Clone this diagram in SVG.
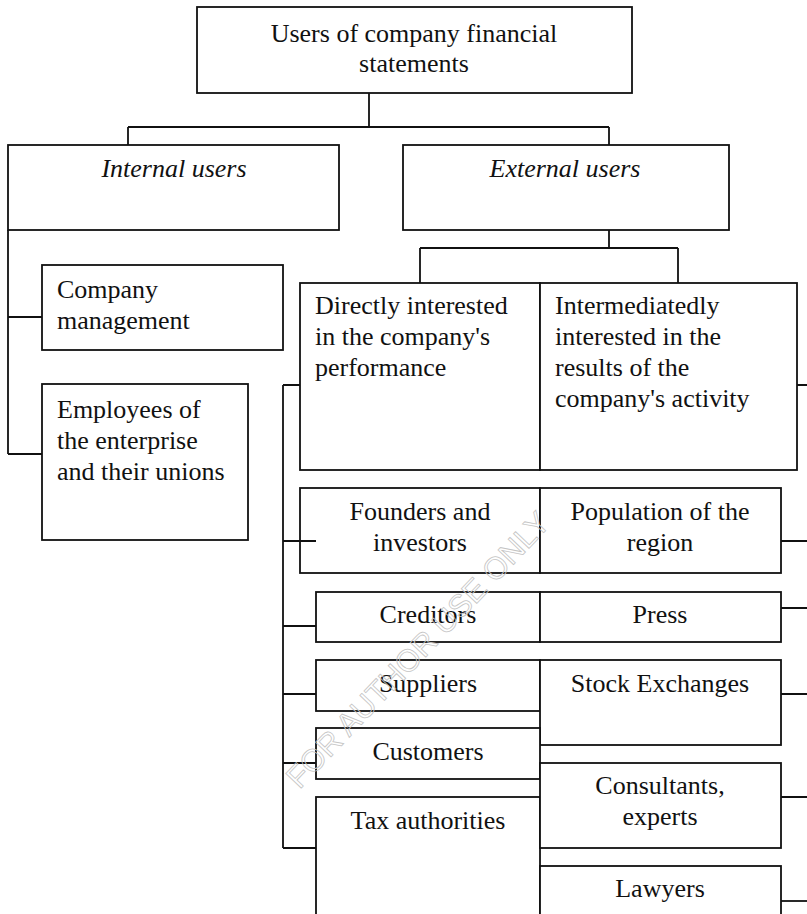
<svg xmlns="http://www.w3.org/2000/svg" width="807" height="914" viewBox="0 0 807 914">
  <style>
    .box { fill: #fff; stroke: #111; stroke-width: 1.8; }
    .ln { fill: none; stroke: #111; stroke-width: 1.8; }
    text { font-family: "Liberation Serif", "Times New Roman", serif; font-size: 26px; fill: #111; }
    .c { text-anchor: middle; }
    .it { font-style: italic; }
    .wm { font-family: "Liberation Sans", Arial, sans-serif; font-size: 31px; fill: none; stroke: #c4c4c4; stroke-width: 0.8; text-anchor: middle; dominant-baseline: central; }
  </style>
  <rect width="807" height="914" fill="#fff"/>

  <!-- root -->
  <g id="root">
    <rect class="box" x="197" y="7" width="435" height="86"/>
    <text class="c" x="414" y="42">Users of company financial</text>
    <text class="c" x="414" y="72">statements</text>
  </g>

  <g id="internal">
    <rect class="box" x="8" y="145" width="331" height="85"/>
    <text class="c it" x="174" y="177">Internal users</text>
  </g>

  <g id="external">
    <rect class="box" x="403" y="145" width="326" height="85"/>
    <text class="c it" x="565" y="177">External users</text>
  </g>

  <g id="management">
    <rect class="box" x="42" y="265" width="241" height="85"/>
    <text x="57" y="298">Company</text>
    <text x="57" y="329">management</text>
  </g>

  <g id="employees">
    <rect class="box" x="42" y="384" width="206" height="156"/>
    <text x="57" y="418">Employees of</text>
    <text x="57" y="449">the enterprise</text>
    <text x="57" y="480">and their unions</text>
  </g>

  <g id="direct">
    <rect class="box" x="300" y="283" width="240" height="187"/>
    <text x="315" y="314">Directly interested</text>
    <text x="315" y="345">in the company's</text>
    <text x="315" y="376">performance</text>
  </g>

  <g id="indirect">
    <rect class="box" x="540" y="283" width="257" height="187"/>
    <text x="555" y="314">Intermediatedly</text>
    <text x="555" y="345">interested in the</text>
    <text x="555" y="376">results of the</text>
    <text x="555" y="407">company's activity</text>
  </g>

  <g id="founders">
    <rect class="box" x="300" y="488" width="240" height="85"/>
    <text class="c" x="420" y="520">Founders and</text>
    <text class="c" x="420" y="551">investors</text>
  </g>

  <g id="population">
    <rect class="box" x="540" y="488" width="241" height="85"/>
    <text class="c" x="660" y="520">Population of the</text>
    <text class="c" x="660" y="551">region</text>
  </g>

  <g id="creditors">
    <rect class="box" x="316" y="592" width="224" height="50"/>
    <text class="c" x="428" y="623">Creditors</text>
  </g>

  <g id="press">
    <rect class="box" x="540" y="592" width="241" height="50"/>
    <text class="c" x="660" y="623">Press</text>
  </g>

  <g id="suppliers">
    <rect class="box" x="316" y="660" width="224" height="51"/>
    <text class="c" x="428" y="692">Suppliers</text>
  </g>

  <g id="exchanges">
    <rect class="box" x="540" y="660" width="241" height="85"/>
    <text class="c" x="660" y="692">Stock Exchanges</text>
  </g>

  <g id="customers">
    <rect class="box" x="316" y="728" width="224" height="51"/>
    <text class="c" x="428" y="760">Customers</text>
  </g>

  <g id="tax">
    <rect class="box" x="316" y="797" width="224" height="130"/>
    <text class="c" x="428" y="829">Tax authorities</text>
  </g>

  <g id="consultants">
    <rect class="box" x="540" y="763" width="241" height="85"/>
    <text class="c" x="660" y="794">Consultants,</text>
    <text class="c" x="660" y="825">experts</text>
  </g>

  <g id="lawyers">
    <rect class="box" x="540" y="866" width="241" height="60"/>
    <text class="c" x="660" y="897">Lawyers</text>
  </g>

  <!-- connectors (drawn over the boxes: the founders branch runs into its box) -->
  <g id="connectors">
    <path class="ln" d="M369 93 V127 M128 127 H609 M128 127 V145 M609 127 V145"/>
    <path class="ln" d="M609 230 V248 M420 248 H678 M420 248 V283 M678 248 V283"/>
    <path class="ln" d="M8 230 V454 M8 317 H42 M8 454 H42"/>
    <path class="ln" d="M283 385 V848 M283 385 H300 M283 541 H316 M283 626 H316 M283 694 H316 M283 763 H316 M283 848 H316"/>
    <path class="ln" d="M797 385 H807 M781 541 H807 M781 608 H807 M781 694 H807 M781 797 H807"/>
    <path class="ln" d="M781 901 H807" stroke-width="2.6"/>
  </g>

  <!-- diagonal stamp across the lower middle -->
  <text class="wm" transform="translate(418 650) rotate(-46.5)">FOR AUTHOR USE ONLY</text>
</svg>
